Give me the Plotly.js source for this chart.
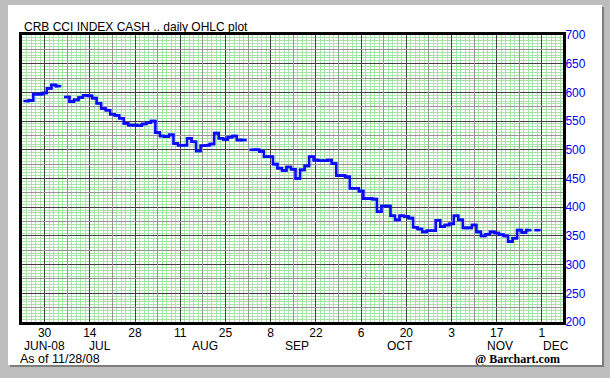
<!DOCTYPE html>
<html><head><meta charset="utf-8">
<script src="https://cdn.plot.ly/plotly-3.0.1.min.js"></script>
<style>
html,body{margin:0;padding:0;width:610px;height:378px;overflow:hidden;background:#bdbdbd;}
#panel{position:absolute;left:8px;top:5px;width:594px;height:360px;background:#fff;box-shadow:2px 2px 0 #7c7c7c;}
#chart{width:594px;height:360px;}
</style></head><body>
<div id="panel"><div id="chart"></div></div>
<script>
// Daily closing levels, null = market holiday
const dates = [
 '2008-06-24','2008-06-25','2008-06-26','2008-06-27','2008-06-30',
 '2008-07-01','2008-07-02','2008-07-03','2008-07-04','2008-07-07','2008-07-08','2008-07-09','2008-07-10','2008-07-11',
 '2008-07-14','2008-07-15','2008-07-16','2008-07-17','2008-07-18','2008-07-21','2008-07-22','2008-07-23','2008-07-24','2008-07-25',
 '2008-07-28','2008-07-29','2008-07-30','2008-07-31','2008-08-01',
 '2008-08-04','2008-08-05','2008-08-06','2008-08-07','2008-08-08','2008-08-11','2008-08-12','2008-08-13','2008-08-14','2008-08-15',
 '2008-08-18','2008-08-19','2008-08-20','2008-08-21','2008-08-22','2008-08-25','2008-08-26','2008-08-27','2008-08-28','2008-08-29',
 '2008-09-01','2008-09-02','2008-09-03','2008-09-04','2008-09-05','2008-09-08','2008-09-09','2008-09-10','2008-09-11','2008-09-12',
 '2008-09-15','2008-09-16','2008-09-17','2008-09-18','2008-09-19','2008-09-22','2008-09-23','2008-09-24','2008-09-25','2008-09-26',
 '2008-09-29','2008-09-30','2008-10-01','2008-10-02','2008-10-03','2008-10-06','2008-10-07','2008-10-08','2008-10-09','2008-10-10',
 '2008-10-13','2008-10-14','2008-10-15','2008-10-16','2008-10-17','2008-10-20','2008-10-21','2008-10-22','2008-10-23','2008-10-24',
 '2008-10-27','2008-10-28','2008-10-29','2008-10-30','2008-10-31','2008-11-03','2008-11-04','2008-11-05','2008-11-06','2008-11-07',
 '2008-11-10','2008-11-11','2008-11-12','2008-11-13','2008-11-14','2008-11-17','2008-11-18','2008-11-19','2008-11-20','2008-11-21',
 '2008-11-24','2008-11-25','2008-11-26','2008-11-27','2008-11-28'
];
const closes = [
 585,586,597,597,599,
 607,613,611,null,592,584,587,591,595,
 594,590,581,572,569,562,560,555,546,543,
 543,542,545,547,550,
 530,524,523,526,511,508,508,520,514,498,
 507,508,510,529,520,518,522,524,517,517,
 null,500,500,497,488,488,475,468,464,470,
 466,450,465,472,488,482,481,481,482,476,
 455,455,453,433,433,428,415,415,414,392,
 402,402,385,378,385,384,381,365,362,357,
 359,359,377,366,369,371,385,378,364,364,
 369,357,350,353,357,355,352,350,340,346,
 360,356,360,null,360
];
// Axis labels
const tickDates = ['2008-06-30','2008-07-14','2008-07-28','2008-08-11','2008-08-25','2008-09-08','2008-09-22','2008-10-06','2008-10-20','2008-11-03','2008-11-17','2008-12-01'];
const tickText  = ['30','14','28','11','25','8','22','6','20','3','17','1'];
const weekDates = ['2008-07-07','2008-07-21','2008-08-04','2008-08-18','2008-09-01','2008-09-15','2008-09-29','2008-10-13','2008-10-27','2008-11-10','2008-11-24'];
const monthText = ['JUN-08','JUL','AUG','SEP','OCT','NOV','DEC'];
const monthDates = ['2008-06-30','2008-07-16 06:00','2008-08-18 12:00','2008-09-15 18:00','2008-10-16 12:00','2008-11-17 18:00','2008-12-04'];
const yTicks = [200,250,300,350,400,450,500,550,600,650,700];
const yMid = [225,275,325,375,425,475,525,575,625,675];

const xRange = ['2008-06-23','2008-12-05 15:40'];
const breaks = [{bounds:['sat','mon']}];
const GREEN = '#a9e3a9', DARK = '#424242', GRAY = '#959595', BLUE = '#0a0aff';

const traces = [
 {type:'scatter', mode:'lines+markers', x:dates, y:closes,
  line:{color:BLUE, width:2.6, shape:'hvh'},
  marker:{symbol:'line-ew', size:4.5, color:BLUE, line:{color:BLUE, width:2.6}},
  connectgaps:false, hoverinfo:'x+y'},
 {type:'scatter', mode:'lines', x:[], y:[], xaxis:'x2', yaxis:'y2', hoverinfo:'skip'}
];

const annotations = monthText.map((t,i)=>({text:t, x:monthDates[i], xref:'x', y:-0.082, yref:'paper', xanchor:'center', yanchor:'middle', showarrow:false, font:{size:12, color:'#000'}}));
annotations.push({text:'As of 11/28/08', x:-0.008, xref:'paper', y:-0.129, yref:'paper', xanchor:'left', yanchor:'middle', showarrow:false, font:{size:12.5,color:'#000'}});
annotations.push({text:'<b>@ Barchart.com</b>', x:0.998, xref:'paper', y:-0.129, yref:'paper', xanchor:'right', yanchor:'middle', showarrow:false, font:{size:12,color:'#000', family:'Liberation Serif, Times New Roman, serif'}});

const layout = {
 width:594, height:360,
 margin:{l:14, r:39, t:30, b:43, pad:0},
 paper_bgcolor:'rgba(0,0,0,0)', plot_bgcolor:'#ffffff',
 showlegend:false,
 font:{family:'Liberation Sans, Arial, sans-serif', size:12, color:'#000'},
 title:{text:'CRB CCI INDEX CASH .. daily OHLC plot', xref:'container', x:16/594, xanchor:'left', yref:'container', y:1-22/360, yanchor:'middle', font:{size:12, color:'#000'}},
 xaxis:{type:'date', range:xRange, rangebreaks:breaks, tickmode:'array', tickvals:tickDates, ticktext:tickText, ticks:'',
   ticklabelstandoff:-2,
   showgrid:true, gridcolor:DARK, gridwidth:1,
   minor:{tickmode:'linear', tick0:'2008-06-23', dtick:86400000, showgrid:true, gridcolor:GREEN, gridwidth:1, ticks:''},
   showline:true, linecolor:'#000', linewidth:3, mirror:true, zeroline:false, fixedrange:true, tickfont:{size:12, color:'#000'}},
 xaxis2:{type:'date', overlaying:'x', anchor:'y', range:xRange, rangebreaks:breaks, tickmode:'array', tickvals:weekDates,
   showticklabels:false, ticks:'', showgrid:true, gridcolor:GRAY, gridwidth:1, showline:false, zeroline:false, fixedrange:true},
 yaxis:{range:[200,700], side:'right', tickmode:'array', tickvals:yTicks, ticks:'',
   ticklabelstandoff:-3,
   tickfont:{color:'#0000ff', size:12},
   showgrid:true, gridcolor:DARK, gridwidth:1,
   minor:{tickmode:'linear', tick0:200, dtick:5, showgrid:true, gridcolor:GREEN, gridwidth:1, ticks:''},
   showline:true, linecolor:'#000', linewidth:3, mirror:true, zeroline:false, fixedrange:true},
 yaxis2:{range:[200,700], overlaying:'y', anchor:'x', side:'right', tickmode:'array', tickvals:yMid, showticklabels:false, ticks:'',
   showgrid:true, gridcolor:GRAY, gridwidth:1, showline:false, zeroline:false, fixedrange:true},
 annotations:annotations
};
Plotly.newPlot('chart', traces, layout, {displayModeBar:false, staticPlot:true});
</script>
</body></html>
